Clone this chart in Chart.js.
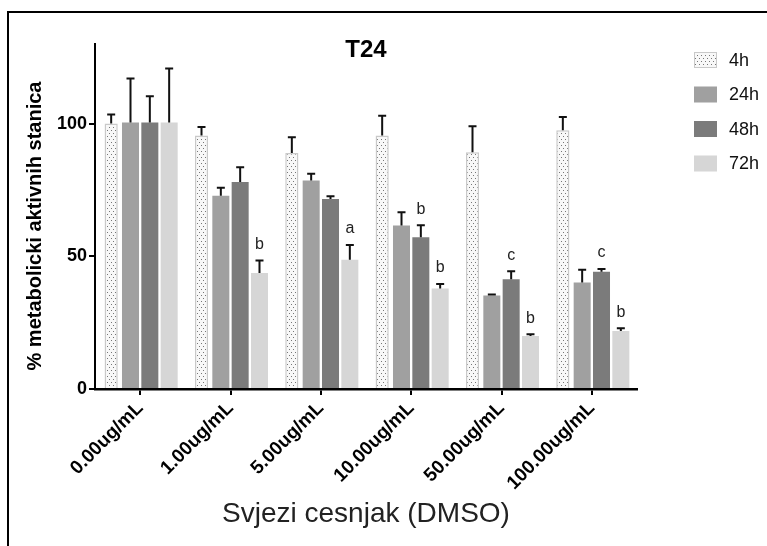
<!DOCTYPE html>
<html>
<head>
<meta charset="utf-8">
<script src="https://cdn.jsdelivr.net/npm/chart.js@4/dist/chart.umd.min.js"></script>
<style>
  html, body { margin: 0; padding: 0; background: #fff; }
  #wrap { position: relative; width: 767px; height: 546px; }
  #frame { position: absolute; left: 7px; top: 11px; right: 0; bottom: 0;
           border-top: 2px solid #000; border-left: 2px solid #000; pointer-events: none; }
</style>
</head>
<body>
<div id="wrap">
  <canvas id="chart" width="767" height="546"></canvas>
  <div id="frame"></div>
</div>
<script>
// data
const categories = ['0.00ug/mL', '1.00ug/mL', '5.00ug/mL', '10.00ug/mL', '50.00ug/mL', '100.00ug/mL'];
const seriesNames = ['4h', '24h', '48h', '72h'];
const values4h  = [100, 95.5, 88.9, 95.5, 89.2, 97.5];
const values24h = [100.4, 72.8, 78.6, 61.6, 35.2, 40.1];
const values48h = [100.4, 78.0, 71.6, 57.2, 41.4, 44.2];
const values72h = [100.4, 43.7, 48.7, 37.9, 20.0, 21.9];
const err4h  = [3.4, 3.2, 6.0, 7.5, 9.8, 5.0];
const err24h = [16.6, 3.0, 2.5, 5.0, 0.4, 4.8];
const err48h = [9.9, 5.6, 1.0, 4.5, 3.0, 1.0];
const err72h = [20.4, 4.7, 5.6, 1.7, 0.6, 1.0];
const letters24h = ['', '', '', '', '', ''];
const letters48h = ['', '', '', 'b', 'c', 'c'];
const letters72h = ['', 'b', 'a', 'b', 'b', 'b'];
const yTicks = [0, 50, 100];

const FONT = '"Liberation Sans", Arial, Helvetica, sans-serif';

function dotPattern() {
  const c = document.createElement('canvas');
  c.width = 4; c.height = 6;
  const g = c.getContext('2d');
  g.fillStyle = '#f8f8f8';
  g.fillRect(0, 0, 4, 6);
  g.fillStyle = '#777';
  g.fillRect(1, 1, 1, 1);
  g.fillRect(3, 4, 1, 1);
  return g.createPattern(c, 'repeat');
}

const ctx = document.getElementById('chart').getContext('2d');
const dots = dotPattern();

const datasets = [
  { label: seriesNames[0], data: values4h, errors: err4h, letters: ['', '', '', '', '', ''],
    backgroundColor: dots, borderColor: '#c9c9c9', borderWidth: 1.5, barPercentage: 0.68 },
  { label: seriesNames[1], data: values24h, errors: err24h, letters: letters24h,
    backgroundColor: '#a0a0a0', borderWidth: 0, barPercentage: 0.88 },
  { label: seriesNames[2], data: values48h, errors: err48h, letters: letters48h,
    backgroundColor: '#7b7b7b', borderWidth: 0, barPercentage: 0.88 },
  { label: seriesNames[3], data: values72h, errors: err72h, letters: letters72h,
    backgroundColor: '#d6d6d6', borderWidth: 0, barPercentage: 0.88 }
];

// error bars (upper only) and significance letters
const errorBars = {
  id: 'errorBars',
  afterDatasetsDraw(chart) {
    const c = chart.ctx, y = chart.scales.y;
    c.save();
    chart.data.datasets.forEach((ds, i) => {
      chart.getDatasetMeta(i).data.forEach((bar, j) => {
        const top = y.getPixelForValue(ds.data[j] + ds.errors[j]);
        c.strokeStyle = '#111';
        c.lineWidth = 2;
        c.beginPath();
        c.moveTo(bar.x, bar.y);
        c.lineTo(bar.x, top);
        c.moveTo(bar.x - 4, top);
        c.lineTo(bar.x + 4, top);
        c.stroke();
        if (ds.letters[j]) {
          c.fillStyle = '#222';
          c.font = '16px ' + FONT;
          c.textAlign = 'center';
          c.textBaseline = 'middle';
          c.fillText(ds.letters[j], bar.x, top - 16);
        }
      });
    });
    c.restore();
  }
};

// title, y title and legend on the right
const decorations = {
  id: 'decorations',
  afterDraw(chart) {
    const c = chart.ctx, area = chart.chartArea;
    c.save();
    c.fillStyle = '#000';
    c.font = 'bold 24px ' + FONT;
    c.textAlign = 'center';
    c.textBaseline = 'middle';
    c.fillText('T24', (area.left + area.right) / 2, 50);

    c.save();
    c.translate(35, 226);
    c.rotate(-Math.PI / 2);
    c.font = 'bold 20px ' + FONT;
    c.fillText('% metabolicki aktivnih stanica', 0, 0);
    c.restore();

    chart.data.datasets.forEach((ds, i) => {
      const yc = 60 + i * 34.5;
      c.fillStyle = ds.backgroundColor;
      c.fillRect(694, yc - 8, 23, 16);
      if (ds.borderWidth) {
        c.strokeStyle = ds.borderColor;
        c.lineWidth = 1;
        c.strokeRect(694.5, yc - 7.5, 22, 15);
      }
      c.fillStyle = '#111';
      c.font = '18px ' + FONT;
      c.textAlign = 'left';
      c.fillText(ds.label, 729, yc + 1);
    });
    c.restore();
  }
};

new Chart(ctx, {
  type: 'bar',
  data: { labels: categories, datasets },
  options: {
    responsive: false,
    animation: false,
    categoryPercentage: 0.856,
    layout: { padding: { top: 44, right: 130, left: 0, bottom: 0 } },
    plugins: { legend: { display: false }, tooltip: { enabled: false } },
    scales: {
      x: {
        grid: { display: true, drawOnChartArea: false, offset: false, tickLength: 6, color: '#000', lineWidth: 2 },
        border: { display: true, color: '#000', width: 2.5 },
        ticks: { autoSkip: false, minRotation: 45, maxRotation: 45, padding: 2, color: '#000',
                 font: { family: FONT, size: 19, weight: 'bold' } },
        title: { display: true, text: 'Svjezi cesnjak (DMSO)', color: '#222',
                 font: { family: FONT, size: 28 }, padding: { top: 0, bottom: 15 } },
        afterFit(s) { s.height = 157; }
      },
      y: {
        min: 0, max: 130,
        afterBuildTicks(s) { s.ticks = yTicks.map(v => ({ value: v })); },
        grid: { display: true, drawOnChartArea: false, tickLength: 6, color: '#000', lineWidth: 2 },
        border: { display: true, color: '#000', width: 2 },
        ticks: { padding: 2, color: '#000', font: { family: FONT, size: 18, weight: 'bold' } },
        afterFit(s) { s.width = 95; }
      }
    }
  },
  plugins: [errorBars, decorations]
});
</script>
</body>
</html>
